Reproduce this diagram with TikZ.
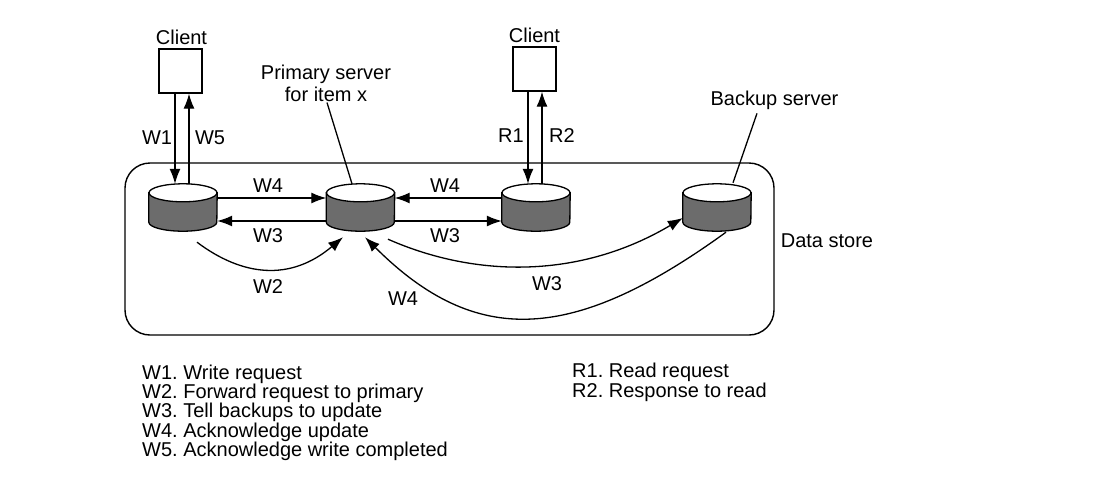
\documentclass[tikz,border=0pt]{standalone}
\usepackage{fontspec}
\setmainfont{Liberation Sans}
\usetikzlibrary{arrows.meta}
\definecolor{cylgray}{RGB}{108,108,108}
\frenchspacing
\begin{document}
\begin{tikzpicture}[x=1pt,y=1pt,
  lbl/.style={font=\fontsize{20}{22}\selectfont, inner sep=0pt, text height=14.3pt, text depth=0pt},
  cyl/.style={minimum width=68pt, minimum height=47pt, inner sep=0pt},
  box/.style={draw, line width=1.3pt, minimum width=43pt, minimum height=44pt, inner sep=0pt},
  conn/.style={line width=1.3pt},
  arr/.style={conn, -{Latex[length=15pt,width=11pt]}},
  ]
\useasboundingbox (0,0) rectangle (1114,-499);
% data store
\node[draw, line width=1.4pt, rounded corners=25pt, minimum width=649pt, minimum height=172pt, inner sep=0pt] (ds) at (449.5,-249) {};
\node[lbl] (dsl) at (827,-240) {Data store};
% cylinders
\node[cyl] (c1) at (183,-207.5) {};
\node[cyl] (c2) at (360.5,-207.5) {};
\node[cyl] (c3) at (536,-207.5) {};
\node[cyl] (c4) at (717,-207.5) {};
\foreach \n in {c1,c2,c3,c4}{
  \filldraw[line width=1.3pt, fill=cylgray] ([yshift=-9pt]\n.north west) -- ([yshift=9pt]\n.south west) arc[start angle=180, end angle=360, x radius=34pt, y radius=9pt] -- ([yshift=-9pt]\n.north east) -- cycle;
  \filldraw[line width=1.3pt, fill=white] ([yshift=-9pt]\n.north) ellipse [x radius=34pt, y radius=9pt];
}
% clients
\node[box] (cl1) at (180.5,-71) {};
\node[box] (cl2) at (534.5,-69) {};
\node[lbl] (cl1l) at (181.5,-37) {Client};
\node[lbl] (cl2l) at (534.5,-35) {Client};
% server labels
\node[font=\fontsize{20}{22}\selectfont, align=center, inner sep=1pt] (prl) at (326,-83) {Primary server\\for item x};
\node[lbl] (bkl) at (774.5,-98) {Backup server};
\draw[conn] ([xshift=1pt]prl.south) -- ([xshift=-8.5pt]c2.north);
\draw[conn] ([xshift=-17.5pt,yshift=-8pt]bkl.south) -- ([xshift=16pt,yshift=1pt]c4.north);
% client arrows
\draw[arr] ([xshift=-5.5pt]cl1.south) -- ([xshift=-5.5pt]cl1.south |- c1.north);
\draw[arr] ([xshift=8.5pt]cl1.south |- c1.north) -- ([xshift=8.5pt]cl1.south);
\draw[arr] ([xshift=-6.5pt]cl2.south) -- ([xshift=-6.5pt]cl2.south |- c3.north);
\draw[arr] ([xshift=7.5pt]cl2.south |- c3.north) -- ([xshift=7.5pt]cl2.south);
\node[lbl] (w1) at (157,-137) {W1};
\node[lbl] (w5) at (210,-137) {W5};
\node[lbl] (r1) at (511,-135) {R1};
\node[lbl] (r2) at (562,-135) {R2};
% horizontal arrows
\draw[arr] ([yshift=9.5pt]c1.east) -- ([yshift=9.5pt]c2.west);
\draw[arr] ([yshift=-13.5pt]c2.west) -- ([yshift=-13.5pt]c1.east);
\draw[arr] ([yshift=9.5pt]c3.west) -- ([yshift=9.5pt]c2.east);
\draw[arr] ([yshift=-13.5pt]c2.east) -- ([yshift=-13.5pt]c3.west);
\node[lbl] (la) at (268,-185) {W4};
\node[lbl] (lb) at (268,-235) {W3};
\node[lbl] (lc) at (445,-185) {W4};
\node[lbl] (ld) at (445,-235) {W3};
% curved arrows
\draw[arr] ([xshift=14pt,yshift=-11pt]c1.south) .. controls (242,-276) and (290,-282) .. ([xshift=-17.5pt,yshift=-6pt]c2.south);
\draw[arr] ([xshift=27.5pt,yshift=-8pt]c2.south) .. controls (476,-278) and (580,-279) .. ([yshift=-10.5pt]c4.west);
\draw[arr] ([xshift=9pt,yshift=-1pt]c4.south) .. controls (573,-343) and (476,-348) .. ([xshift=4.5pt,yshift=-6pt]c2.south);
\node[lbl] (le) at (268,-286) {W2};
\node[lbl] (lf) at (547,-283) {W3};
\node[lbl] (lg) at (403,-298) {W4};
% legend
\node[lbl, anchor=west] (k1) at (142,-372) {W1. Write request};
\node[lbl, anchor=west] (k2) at (142,-391.3) {W2. Forward request to primary};
\node[lbl, anchor=west] (k3) at (142,-410.6) {W3. Tell backups to update};
\node[lbl, anchor=west] (k4) at (142,-429.9) {W4. Acknowledge update};
\node[lbl, anchor=west] (k5) at (142,-449.2) {W5. Acknowledge write completed};
\node[lbl, anchor=west] (k6) at (572,-370) {R1. Read request};
\node[lbl, anchor=west] (k7) at (572,-390) {R2. Response to read};
\end{tikzpicture}
\end{document}
